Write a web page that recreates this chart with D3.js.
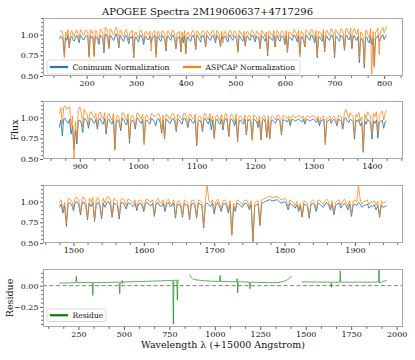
<!DOCTYPE html>
<html><head><meta charset="utf-8">
<script src="https://cdn.jsdelivr.net/npm/d3@7"></script>
<style>body{margin:0;background:#fff}svg{display:block}</style>
</head><body><svg id="c" width="415" height="360"></svg>
<script>
// ---------- DATA ----------
const title = "APOGEE Spectra 2M19060637+4717296";
const seriesNames = ["Coninuum Normalization", "ASPCAP Normalization", "Residue"];

// chip 1 (wavelength - 15000 A)
const wave1 = [145,147.5,150,152.5,155,157.5,160,162.5,165,167.5,170,172.5,175,177.5,180,182.5,185,187.5,190,192.5,
195,197.5,200,202.5,205,207.5,210,212.5,215,217.5,220,222.5,225,227.5,230,232.5,235,237.5,240,242.5,
245,247.5,250,252.5,255,257.5,260,262.5,265,267.5,270,272.5,275,277.5,280,282.5,285,287.5,290,292.5,
295,297.5,300,302.5,305,307.5,310,312.5,315,317.5,320,322.5,325,327.5,330,332.5,335,337.5,340,342.5,
345,347.5,350,352.5,355,357.5,360,362.5,365,367.5,370,372.5,375,377.5,380,382.5,385,387.5,390,392.5,
395,397.5,400,402.5,405,407.5,410,412.5,415,417.5,420,422.5,425,427.5,430,432.5,435,437.5,440,442.5,
445,447.5,450,452.5,455,457.5,460,462.5,465,467.5,470,472.5,475,477.5,480,482.5,485,487.5,490,492.5,
495,497.5,500,502.5,505,507.5,510,512.5,515,517.5,520,522.5,525,527.5,530,532.5,535,537.5,540,542.5,
545,547.5,550,552.5,555,557.5,560,562.5,565,567.5,570,572.5,575,577.5,580,582.5,585,587.5,590,592.5,
595,597.5,600,602.5,605,607.5,610,612.5,615,617.5,620,622.5,625,627.5,630,632.5,635,637.5,640,642.5,
645,647.5,650,652.5,655,657.5,660,662.5,665,667.5,670,672.5,675,677.5,680,682.5,685,687.5,690,692.5,
695,697.5,700,702.5,705,707.5,710,712.5,715,717.5,720,722.5,725,727.5,730,732.5,735,737.5,740,742.5,
745,747.5,750,752.5,755,757.5,760,762.5,765,767.5,770,772.5,775,777.5,780,782.5,785,787.5,790,792.5,
795,797.5,800,802.5,805];
const cont1 = [0.95,0.98,0.97,0.93,0.75,0.97,0.93,0.99,0.84,0.96,0.98,0.94,0.92,0.97,0.99,0.95,0.90,0.99,0.97,0.94,
0.94,0.98,0.99,0.96,0.74,0.99,0.96,0.97,0.75,0.98,0.97,0.93,0.88,0.99,0.98,0.95,0.78,1.00,1.00,0.95,
0.83,0.99,0.98,0.94,0.93,0.98,1.01,0.95,0.84,0.99,0.97,0.93,0.92,0.98,0.99,0.94,0.89,0.97,0.96,0.99,
0.72,0.96,0.97,0.93,0.91,0.99,0.99,0.95,0.88,0.97,0.98,0.94,0.94,0.98,0.90,0.96,0.97,0.99,0.76,0.97,
0.98,0.93,0.92,0.99,0.97,0.94,0.80,0.98,0.98,0.95,0.93,0.99,0.99,0.94,0.83,0.96,0.96,0.98,0.79,0.97,
0.90,0.99,0.77,0.96,0.97,0.93,0.92,0.98,0.99,0.95,0.82,0.99,0.97,0.94,0.91,0.98,0.99,0.95,0.85,0.99,
0.97,0.94,0.93,0.98,0.99,0.95,0.90,0.99,0.97,0.94,0.85,0.98,0.95,0.97,0.98,0.93,0.91,0.99,0.99,0.95,
0.93,0.98,0.98,0.94,0.80,0.99,0.97,0.94,0.92,0.98,0.86,0.97,0.98,0.94,0.93,0.99,0.99,0.95,0.91,0.98,
0.97,0.94,0.83,0.99,0.98,0.95,0.92,0.97,0.74,0.98,0.97,0.94,0.93,0.99,0.85,0.97,0.99,0.94,0.92,0.98,
0.98,0.95,0.88,0.99,0.79,0.97,0.97,0.94,0.93,0.99,0.99,0.95,0.91,0.98,0.76,0.97,0.97,0.93,0.85,0.99,
0.98,0.95,0.93,0.99,0.99,0.94,0.90,0.98,0.72,0.97,0.97,0.94,0.92,0.99,0.79,0.97,0.98,0.94,0.93,0.99,
0.99,0.95,0.72,0.98,0.97,0.94,0.92,0.99,0.98,0.95,0.81,0.99,0.99,0.94,0.94,1.00,0.83,0.97,0.99,0.94,
0.93,0.98,0.66,0.95,0.95,0.90,0.60,0.97,0.97,0.92,0.90,0.98,0.88,0.96,0.62,0.95,0.96,0.99,0.92,0.95,
0.98,1.00,0.94,0.97,0.99];
const aspcap1 = [1.03,1.04,1.05,0.98,0.72,1.03,0.98,1.06,0.85,1.02,1.05,0.99,0.97,1.03,1.06,1.01,0.94,1.06,1.04,1.00,
0.99,1.05,1.05,1.02,0.72,1.06,1.02,1.04,0.73,1.05,1.04,0.98,0.92,1.07,1.05,1.02,0.80,1.09,1.08,1.03,
0.84,1.07,1.06,1.01,0.99,1.06,1.09,1.02,0.86,1.06,1.04,0.99,0.97,1.05,1.06,1.00,0.93,1.03,1.03,1.05,
0.72,1.02,1.03,0.98,0.96,1.05,1.05,1.01,0.92,1.03,1.04,1.00,0.99,1.04,0.80,1.02,1.03,1.05,0.72,1.03,
1.04,0.98,0.97,1.05,1.03,1.00,0.81,1.04,1.04,1.01,0.98,1.05,1.05,1.00,0.83,1.02,1.02,1.04,0.79,1.03,
0.94,1.05,0.77,1.02,1.03,0.98,0.97,1.04,1.05,1.01,0.82,1.05,1.03,1.00,0.96,1.04,1.05,1.01,0.86,1.05,
1.03,1.00,0.98,1.04,1.05,1.01,0.94,1.05,1.03,1.00,0.86,1.04,0.90,1.03,1.04,0.98,0.96,1.05,1.05,1.01,
0.98,1.04,1.04,1.00,0.78,1.05,1.03,1.00,0.97,1.04,0.87,1.03,1.04,1.00,0.98,1.05,1.05,1.01,0.95,1.04,
1.03,1.00,0.83,1.05,1.04,1.01,0.97,1.03,0.76,1.04,1.03,1.00,0.98,1.05,0.85,1.03,1.05,1.00,0.97,1.04,
1.04,1.01,0.91,1.05,0.78,1.03,1.03,1.00,0.98,1.06,1.05,1.02,0.95,1.05,0.73,1.04,1.03,0.99,0.85,1.06,
1.04,1.02,0.98,1.06,1.06,1.01,0.94,1.05,0.74,1.04,1.03,1.01,0.96,1.06,0.80,1.04,1.05,1.01,0.99,1.07,
1.06,1.02,0.75,1.06,1.04,1.01,0.98,1.07,1.06,1.03,0.82,1.07,1.07,1.02,1.00,1.08,0.84,1.05,1.08,1.02,
1.00,1.07,0.70,1.03,1.02,0.97,0.64,1.05,1.05,0.99,0.96,1.07,0.52,1.04,0.60,1.03,1.04,1.08,0.76,1.03,
1.06,1.09,1.02,1.05,1.10];

// chip 2
const wave2 = [865,867.5,870,872.5,875,877.5,880,882.5,885,887.5,890,892.5,895,897.5,900,902.5,905,907.5,910,912.5,
915,917.5,920,922.5,925,927.5,930,932.5,935,937.5,940,942.5,945,947.5,950,952.5,955,957.5,960,962.5,
965,967.5,970,972.5,975,977.5,980,982.5,985,987.5,990,992.5,995,997.5,1000,1002.5,1005,1007.5,1010,1012.5,
1015,1017.5,1020,1022.5,1025,1027.5,1030,1032.5,1035,1037.5,1040,1042.5,1045,1047.5,1050,1052.5,1055,1057.5,1060,1062.5,
1065,1067.5,1070,1072.5,1075,1077.5,1080,1082.5,1085,1087.5,1090,1092.5,1095,1097.5,1100,1102.5,1105,1107.5,1110,1112.5,
1115,1117.5,1120,1122.5,1125,1127.5,1130,1132.5,1135,1137.5,1140,1142.5,1145,1147.5,1150,1152.5,1155,1157.5,1160,1162.5,
1165,1167.5,1170,1172.5,1175,1177.5,1180,1182.5,1185,1187.5,1190,1192.5,1195,1197.5,1200,1202.5,1205,1207.5,1210,1212.5,
1215,1217.5,1220,1222.5,1225,1227.5,1230,1232.5,1235,1237.5,1240,1242.5,1245,1247.5,1250,1252.5,1255,1257.5,1260,1262.5,
1265,1267.5,1270,1272.5,1275,1277.5,1280,1282.5,1285,1287.5,1290,1292.5,1295,1297.5,1300,1302.5,1305,1307.5,1310,1312.5,
1315,1317.5,1320,1322.5,1325,1327.5,1330,1332.5,1335,1337.5,1340,1342.5,1345,1347.5,1350,1352.5,1355,1357.5,1360,1362.5,
1365,1367.5,1370,1372.5,1375,1377.5,1380,1382.5,1385,1387.5,1390,1392.5,1395,1397.5,1400,1402.5,1405,1407.5,1410,1412.5,
1415,1417.5,1420,1422.5,1425];
const cont2 = [0.88,0.97,0.78,0.98,0.99,0.95,0.93,0.98,0.80,0.90,0.62,0.85,0.68,0.96,0.97,0.93,0.82,0.99,0.98,0.95,
0.87,0.98,0.99,0.95,0.93,0.98,0.86,0.97,0.99,0.94,0.92,0.99,0.80,0.96,0.98,0.94,0.92,0.98,0.62,0.96,
0.97,0.93,0.84,0.99,0.98,0.94,0.91,0.98,0.69,0.95,0.97,0.94,0.86,0.99,0.99,0.95,0.93,0.98,0.70,0.96,
0.97,0.94,0.92,0.99,0.98,0.95,0.90,0.98,0.99,0.94,0.81,0.97,0.74,0.98,0.97,0.94,0.93,0.98,0.99,0.95,
0.83,0.98,0.97,0.94,0.92,0.99,0.99,0.95,0.88,0.98,0.98,0.94,0.93,0.98,0.66,0.95,0.97,0.94,0.83,0.98,
0.99,0.95,0.92,0.99,0.85,0.97,0.76,0.96,0.98,0.94,0.92,0.98,0.85,0.97,0.99,0.94,0.77,0.97,0.98,0.95,
0.90,0.98,0.71,0.96,0.97,0.94,0.92,0.98,0.79,0.96,0.98,0.94,0.74,0.98,0.97,0.95,0.88,0.97,0.73,0.96,
0.98,0.94,0.76,0.97,0.74,0.96,0.97,0.95,0.93,0.98,0.98,0.95,0.79,0.97,0.97,0.96,0.95,0.98,0.90,0.97,
0.98,0.96,0.96,0.98,0.98,0.96,0.95,0.98,0.92,0.97,0.98,0.96,0.96,0.98,0.98,0.96,0.94,0.98,0.90,0.96,
0.97,0.98,0.70,0.95,0.96,0.98,0.93,0.96,0.98,0.95,0.90,0.98,0.97,0.95,0.86,0.98,1.00,0.96,0.94,0.98,
0.97,0.95,0.74,0.97,0.95,0.98,0.90,0.94,0.58,0.96,0.92,0.98,0.96,0.93,0.74,0.96,0.93,0.97,0.75,0.94,
0.95,0.97,0.87,0.95,0.96];
const aspcap2 = [1.04,1.12,0.92,1.13,1.14,1.10,1.12,1.13,0.89,1.02,0.50,0.95,0.74,1.10,1.13,1.06,0.88,1.10,1.07,1.04,
0.92,1.06,1.07,1.02,0.99,1.05,0.90,1.04,1.07,1.00,0.98,1.06,0.83,1.02,1.05,1.00,0.97,1.05,0.60,1.02,
1.03,0.98,0.87,1.06,1.05,1.00,0.96,1.05,0.72,1.01,1.03,0.99,0.89,1.05,1.05,1.01,0.98,1.04,0.67,1.02,
1.03,0.99,0.97,1.05,1.04,1.01,1.02,1.04,1.05,1.00,0.83,1.03,0.75,1.04,1.03,0.99,0.98,1.04,1.05,1.00,
0.85,1.04,1.02,0.99,0.97,1.05,1.05,1.00,0.91,1.04,1.04,0.99,0.98,1.04,0.68,1.00,1.02,0.99,0.85,1.04,
1.05,1.00,0.97,1.05,0.95,1.02,0.74,1.01,1.03,0.99,0.96,1.04,0.88,1.02,1.05,0.99,0.78,1.03,1.04,1.00,
0.94,1.04,0.72,1.01,1.02,0.99,0.96,1.03,0.80,1.01,1.03,0.99,0.72,1.03,1.02,1.00,0.91,1.02,0.74,1.01,
1.03,0.99,0.77,1.02,0.75,1.01,1.02,1.00,0.97,1.03,1.03,1.00,0.80,1.02,1.02,1.00,0.99,1.02,0.93,1.01,
1.03,1.00,1.00,1.02,1.03,1.00,0.99,1.02,0.95,1.01,1.02,1.00,1.00,1.02,1.02,1.00,0.97,1.02,0.93,1.00,
1.01,1.02,0.67,0.99,1.00,1.02,0.96,1.00,1.02,0.99,0.93,1.03,1.02,1.00,0.89,1.04,1.10,1.05,0.99,1.06,
1.03,1.02,0.77,1.04,1.01,1.06,0.96,1.01,0.60,1.04,0.98,1.07,1.04,1.01,0.80,1.05,1.01,1.07,0.82,1.03,
1.05,1.08,0.97,1.06,1.09];

// chip 3
const wave3 = [1480,1482.5,1485,1487.5,1490,1492.5,1495,1497.5,1500,1502.5,1505,1507.5,1510,1512.5,1515,1517.5,1520,1522.5,1525,1527.5,
1530,1532.5,1535,1537.5,1540,1542.5,1545,1547.5,1550,1552.5,1555,1557.5,1560,1562.5,1565,1567.5,1570,1572.5,1575,1577.5,
1580,1582.5,1585,1587.5,1590,1592.5,1595,1597.5,1600,1602.5,1605,1607.5,1610,1612.5,1615,1617.5,1620,1622.5,1625,1627.5,
1630,1632.5,1635,1637.5,1640,1642.5,1645,1647.5,1650,1652.5,1655,1657.5,1660,1662.5,1665,1667.5,1670,1672.5,1675,1677.5,
1680,1682.5,1685,1687.5,1690,1692.5,1695,1697.5,1700,1702.5,1705,1707.5,1710,1712.5,1715,1717.5,1720,1722.5,1725,1727.5,
1730,1732.5,1735,1737.5,1740,1742.5,1745,1747.5,1750,1752.5,1755,1757.5,1760,1762.5,1765,1767.5,1770,1772.5,1775,1777.5,
1780,1782.5,1785,1787.5,1790,1792.5,1795,1797.5,1800,1802.5,1805,1807.5,1810,1812.5,1815,1817.5,1820,1822.5,1825,1827.5,
1830,1832.5,1835,1837.5,1840,1842.5,1845,1847.5,1850,1852.5,1855,1857.5,1860,1862.5,1865,1867.5,1870,1872.5,1875,1877.5,
1880,1882.5,1885,1887.5,1890,1892.5,1895,1897.5,1900,1902.5,1905,1907.5,1910,1912.5,1915,1917.5,1920,1922.5,1925,1927.5,
1930,1932.5,1935,1937.5,1940,1942.5,1945];
const cont3 = [0.93,0.97,0.86,0.95,0.70,0.98,0.98,0.96,0.89,0.99,1.00,0.96,0.84,0.99,0.99,0.95,0.78,0.98,0.94,0.99,
0.76,0.97,0.99,0.94,0.79,0.98,0.93,0.99,1.00,0.96,0.81,0.98,0.97,0.95,0.79,0.98,0.99,0.96,0.91,0.98,
0.98,0.96,0.94,0.98,0.89,0.97,0.98,0.95,0.88,0.98,0.99,0.96,0.95,0.98,0.82,0.97,0.99,0.95,0.94,0.98,
0.88,0.97,0.99,0.94,0.95,0.98,0.80,0.96,0.97,0.94,0.81,0.98,0.96,0.95,0.78,0.97,0.98,0.95,0.80,0.98,
0.97,0.95,0.68,0.97,0.98,0.96,0.94,0.98,0.85,0.96,0.99,0.94,0.88,0.97,0.98,0.95,0.86,0.97,0.60,0.94,
0.88,0.98,0.97,0.95,0.93,0.97,0.98,0.96,0.90,0.97,0.52,0.94,0.96,0.97,0.71,0.98,0.99,1.00,1.01,1.02,
1.02,1.01,1.01,1.02,1.02,1.00,0.98,0.99,1.00,0.97,0.90,0.98,0.96,0.95,0.92,0.96,0.88,0.95,0.81,0.97,
0.96,0.94,0.80,0.96,0.98,0.95,0.88,0.98,0.97,0.95,0.93,0.97,0.99,0.96,0.90,0.97,0.84,0.95,0.97,0.98,
0.92,0.96,0.98,0.95,0.90,0.97,0.82,0.96,0.97,0.95,0.99,0.97,0.93,0.95,0.96,0.97,0.92,0.95,0.94,0.96,
0.90,0.95,0.81,0.96,0.93,0.94,0.95];
const aspcap3 = [0.98,1.02,0.90,0.99,0.73,1.04,1.03,1.01,0.93,1.04,1.05,1.02,0.87,1.05,1.05,1.01,0.80,1.04,0.99,1.05,
0.78,1.03,1.05,0.99,0.81,1.04,0.98,1.05,1.06,1.02,0.83,1.04,1.02,1.00,0.81,1.03,1.04,1.01,0.95,1.03,
1.02,1.00,0.98,1.02,0.92,1.01,1.02,0.99,0.91,1.02,1.03,1.00,0.99,1.02,0.84,1.01,1.04,0.99,0.98,1.02,
0.91,1.01,1.03,0.98,0.96,1.02,0.82,1.00,1.01,0.98,0.83,1.02,1.00,0.99,0.80,1.01,1.02,0.99,0.82,1.02,
1.01,0.99,0.70,1.01,1.20,1.00,0.98,1.02,0.88,1.00,1.03,0.98,0.91,1.01,1.02,0.99,0.89,1.01,0.59,0.98,
0.91,1.02,1.01,0.99,0.96,1.01,1.02,1.00,0.93,1.01,0.50,0.98,1.00,1.01,0.73,1.02,1.03,1.04,1.05,1.06,
1.06,1.05,1.05,1.06,1.06,1.04,1.02,1.03,1.04,1.01,0.93,1.02,1.00,0.99,0.95,1.00,0.91,0.98,0.82,1.01,
1.00,0.98,0.82,1.00,1.02,0.99,0.91,1.02,1.01,0.99,0.97,1.01,1.03,1.00,0.93,1.01,0.86,0.99,1.01,1.02,
0.96,1.00,1.03,0.99,0.94,1.01,0.84,1.01,1.02,1.00,1.20,1.02,0.97,1.00,1.01,1.02,0.96,1.00,0.99,1.01,
0.95,1.00,0.83,1.01,0.98,0.99,1.01];

// residue, one array per chip
const resWave1 = [145,160,180,200,220,235,238,241,260,280,300,320,326,329,332,350,380,410,440,470,474,477,480,488,490,492,494,520,550,580,610,640,670,700,730,760,769,772,775,785,791,794,797,805];
const resVal1  = [0.030,0.032,0.030,0.034,0.033,0.036,0.110,0.036,0.035,0.038,0.036,0.037,0.036,-0.115,0.036,0.035,0.038,0.037,0.040,0.041,0.040,-0.095,0.041,0.042,0.060,0.025,0.042,0.044,0.046,0.048,0.050,0.052,0.054,0.056,0.058,0.060,0.061,-0.450,0.061,0.063,0.062,-0.167,0.063,0.065];
const resWave2 = [862,865,868,872,876,882,890,900,920,950,980,1010,1026,1029,1032,1060,1090,1120,1123,1126,1129,1160,1190,1193,1196,1230,1260,1290,1320,1345,1365,1385,1400,1410,1417,1423];
const resVal2  = [0.130,0.115,0.100,0.090,0.082,0.076,0.072,0.067,0.062,0.056,0.052,0.050,0.049,0.120,0.049,0.047,0.046,0.045,0.083,-0.083,0.045,0.043,0.041,-0.036,0.041,0.039,0.037,0.036,0.035,0.037,0.043,0.055,0.070,0.085,0.100,0.115];
const resWave3 = [1478,1500,1530,1560,1590,1620,1638,1641,1644,1665,1687,1690,1693,1720,1750,1780,1810,1840,1870,1900,1903,1906,1920,1935,1945];
const resVal3  = [0.043,0.044,0.042,0.043,0.041,0.042,0.041,-0.020,0.041,0.040,0.040,0.170,0.040,0.041,0.040,0.042,0.041,0.040,0.041,0.042,0.186,0.030,0.045,0.055,0.063];

// tick values
const xTicks1 = [200,300,400,500,600,700,800];
const xTicks2 = [900,1000,1100,1200,1300,1400];
const xTicks3 = [1500,1600,1700,1800,1900];
const xTicks4 = [250,500,750,1000,1250,1500,1750,2000];
const yTicksFlux = [0.50,0.75,1.00];
const yTicksRes = [-0.25,0.00];

// ---------- DRAWING ----------
const svg = d3.select("#c");
const L = 43, R = 403, H = 58;
const BLUE = "#1f77b4", ORANGE = "#ff7f0e", GREEN = "#008000";
const FONT = "'DejaVu Serif', serif";

function pad(ext){ const m = (ext[1]-ext[0])*0.05; return [ext[0]-m, ext[1]+m]; }
function minorVals(dom, step){
  const out=[]; for(let k=Math.ceil(dom[0]/step-1e-9); k*step<=dom[1]+1e-9; k++) out.push(+(k*step).toFixed(6)); return out;
}
const fmtY = d => (d<0?"\u2212":"") + Math.abs(d).toFixed(2);

const panels = [
  {id:1, top:18, xdom:pad(d3.extent(wave1)), ydom:[0.5,1.2], xt:xTicks1, xminor:100/3, yt:yTicksFlux,
   lines:[{w:wave1,v:cont1,c:BLUE,sw:0.85,op:1},{w:wave1,v:aspcap1,c:ORANGE,sw:0.85,op:0.9}]},
  {id:2, top:101, xdom:pad(d3.extent(wave2)), ydom:[0.5,1.2], xt:xTicks2, xminor:25, yt:yTicksFlux,
   lines:[{w:wave2,v:cont2,c:BLUE,sw:0.85,op:1},{w:wave2,v:aspcap2,c:ORANGE,sw:0.85,op:0.9}]},
  {id:3, top:185, xdom:pad(d3.extent(wave3)), ydom:[0.5,1.2], xt:xTicks3, xminor:20, yt:yTicksFlux,
   lines:[{w:wave3,v:cont3,c:BLUE,sw:0.85,op:1},{w:wave3,v:aspcap3,c:ORANGE,sw:0.85,op:0.9}]},
  {id:4, top:269, xdom:pad([d3.min(resWave1), d3.max(resWave3)]), ydom:[-0.485,0.195], xt:xTicks4, xminor:250/3, yt:yTicksRes, res:true,
   lines:[{w:resWave1,v:resVal1,c:GREEN,sw:0.9,op:0.7},{w:resWave2,v:resVal2,c:GREEN,sw:0.9,op:0.7},{w:resWave3,v:resVal3,c:GREEN,sw:0.9,op:0.7}]}
];

panels.forEach(p=>{
  const x = d3.scaleLinear().domain(p.xdom).range([L,R]);
  const y = d3.scaleLinear().domain(p.ydom).range([p.top+H, p.top]);
  svg.append("clipPath").attr("id","clip"+p.id).append("rect")
     .attr("x",L).attr("y",p.top).attr("width",R-L).attr("height",H);
  const g = svg.append("g").attr("clip-path",`url(#clip${p.id})`);
  if(p.res){
    g.append("line").attr("x1",L).attr("x2",R).attr("y1",y(0)).attr("y2",y(0))
     .attr("stroke","#7f7f7f").attr("stroke-width",1).attr("stroke-dasharray","4,2.5");
  }
  p.lines.forEach(s=>{
    const line = d3.line().x(i=>x(s.w[i])).y(i=>y(s.v[i]));
    g.append("path").attr("d",line(d3.range(s.w.length))).attr("fill","none")
     .attr("stroke",s.c).attr("stroke-width",s.sw).attr("stroke-opacity",s.op).attr("stroke-linejoin","round");
  });

  const xa = svg.append("g").attr("transform",`translate(0,${p.top+H})`)
    .call(d3.axisBottom(x).tickValues(p.xt).tickSize(3).tickPadding(1.5).tickFormat(d3.format("d")));
  const xm = svg.append("g").attr("transform",`translate(0,${p.top+H})`)
    .call(d3.axisBottom(x).tickValues(minorVals(p.xdom,p.xminor).filter(v=>!p.xt.some(t=>Math.abs(t-v)<1e-6))).tickSize(1.8).tickFormat(""));
  const ya = svg.append("g").attr("transform",`translate(${L},0)`)
    .call(d3.axisLeft(y).tickValues(p.yt).tickSize(3).tickPadding(1.5).tickFormat(fmtY));
  const ym = svg.append("g").attr("transform",`translate(${L},0)`)
    .call(d3.axisLeft(y).tickValues(minorVals(p.ydom,0.05).filter(v=>!p.yt.some(t=>Math.abs(t-v)<1e-6))).tickSize(1.8).tickFormat(""));
  [xa,xm,ya,ym].forEach(a=>{
    a.select(".domain").remove();
    a.attr("font-family",FONT).attr("font-size",8);
    a.selectAll("line").attr("stroke","#333").attr("stroke-width",0.8);
    a.selectAll("text").attr("fill","#111");
  });
  svg.append("rect").attr("x",L+0.5).attr("y",p.top+0.5).attr("width",R-L-1).attr("height",H-1)
     .attr("fill","none").attr("stroke","#a8a8a8").attr("stroke-width",1);
});

svg.append("text").attr("x",207.5).attr("y",15).attr("text-anchor","middle")
   .attr("font-family",FONT).attr("font-size",10).attr("fill","#111").text(title);
svg.append("text").attr("transform","translate(17.5,130) rotate(-90)").attr("text-anchor","middle")
   .attr("font-family",FONT).attr("font-size",9.5).attr("fill","#111").text("Flux");
svg.append("text").attr("transform","translate(13,298) rotate(-90)").attr("text-anchor","middle")
   .attr("font-family",FONT).attr("font-size",9.5).attr("fill","#111").text("Residue");
svg.append("text").attr("x",223).attr("y",348).attr("text-anchor","middle")
   .attr("font-family",FONT).attr("font-size",9.5).attr("fill","#111").text("Wavelength \u03bb (+15000 Angstrom)");

function legend(x0,y0,w,h,items){
  const g = svg.append("g").attr("transform",`translate(${x0},${y0})`);
  g.append("rect").attr("width",w).attr("height",h).attr("rx",2).attr("fill","#fff").attr("fill-opacity",0.85)
   .attr("stroke","#d0d0d0").attr("stroke-width",0.8);
  items.forEach(it=>{
    g.append("line").attr("x1",it.x).attr("x2",it.x+18).attr("y1",h/2).attr("y2",h/2)
     .attr("stroke",it.c).attr("stroke-width",2.2);
    g.append("text").attr("x",it.x+22.5).attr("y",h/2).attr("dy","0.35em")
     .attr("font-family",FONT).attr("font-size",7.6).attr("fill","#111").text(it.t);
  });
}
legend(47,60,253,14,[{x:3,c:BLUE,t:seriesNames[0]},{x:136,c:ORANGE,t:seriesNames[1]}]);
legend(47,309,59,12.5,[{x:3,c:GREEN,t:seriesNames[2]}]);
</script></body></html>
